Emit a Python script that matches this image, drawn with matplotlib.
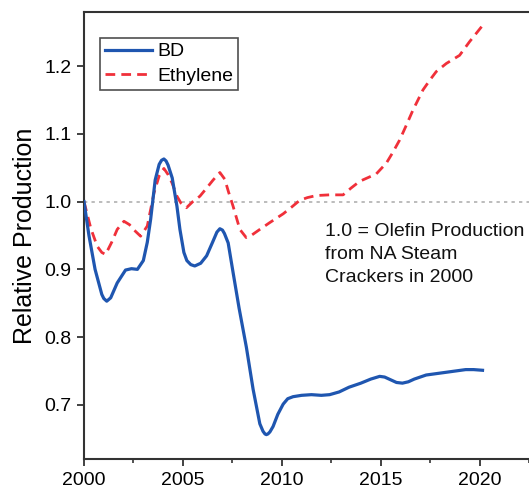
import matplotlib
matplotlib.use("Agg")
from matplotlib import pyplot as plt
from matplotlib.ticker import MultipleLocator, FormatStrFormatter

plt.rcParams["font.family"] = ["Liberation Sans", "DejaVu Sans"]

# values
bd_years = [2000.0, 2000.25, 2000.56, 2000.9, 2001.0, 2001.15, 2001.35, 2001.68,
            2002.1, 2002.4, 2002.7, 2003.0, 2003.2, 2003.37, 2003.6, 2003.8,
            2003.92, 2004.04, 2004.15, 2004.25, 2004.46, 2004.7, 2004.85, 2005.05,
            2005.2, 2005.4, 2005.6, 2005.9, 2006.2, 2006.5, 2006.72, 2006.87,
            2007.0, 2007.1, 2007.29, 2007.54, 2007.84, 2008.21, 2008.55, 2008.89,
            2009.05, 2009.15, 2009.22, 2009.3, 2009.4, 2009.56, 2009.8, 2010.07,
            2010.3, 2010.57, 2011.0, 2011.5, 2012.0, 2012.42, 2012.9, 2013.4,
            2014.0, 2014.5, 2014.95, 2015.2, 2015.5, 2015.8, 2016.1, 2016.4,
            2016.7, 2017.3, 2018.3, 2019.3, 2019.7, 2020.15]
bd_values = [1.000, 0.950, 0.900, 0.863, 0.857, 0.853, 0.858, 0.880,
             0.899, 0.901, 0.900, 0.913, 0.940, 0.974, 1.032, 1.055,
             1.061, 1.063, 1.060, 1.054, 1.035, 0.993, 0.959, 0.925,
             0.913, 0.907, 0.905, 0.909, 0.920, 0.940, 0.955, 0.960,
             0.958, 0.953, 0.939, 0.895, 0.843, 0.785, 0.723, 0.672,
             0.661, 0.657, 0.656, 0.657, 0.660, 0.668, 0.686, 0.701,
             0.709, 0.712, 0.714, 0.715, 0.714, 0.715, 0.719, 0.726,
             0.732, 0.738, 0.742, 0.741, 0.737, 0.733, 0.732, 0.734,
             0.738, 0.744, 0.748, 0.752, 0.752, 0.751]

eth_years = [2000.0, 2000.35, 2000.67, 2000.9, 2001.09, 2001.4, 2001.68, 2002.02,
             2002.3, 2002.5, 2002.86, 2003.2, 2003.54, 2003.8, 2004.04, 2004.25,
             2004.46, 2004.7, 2004.9, 2005.18, 2005.5, 2005.86, 2006.2, 2006.53,
             2006.87, 2007.12, 2007.3, 2007.54, 2007.88, 2008.2, 2008.5, 2008.89,
             2009.39, 2010.07, 2010.5, 2010.91, 2011.3, 2011.75, 2012.4, 2013.1,
             2013.5, 2013.94, 2014.4, 2014.78, 2015.29, 2015.6, 2015.96, 2016.3,
             2016.63, 2017.14, 2017.5, 2017.81, 2018.32, 2018.99, 2019.49, 2020.15]
eth_values = [1.000, 0.960, 0.934, 0.925, 0.922, 0.940, 0.959, 0.971,
              0.966, 0.959, 0.949, 0.964, 1.013, 1.038, 1.049, 1.040,
              1.027, 1.008, 0.998, 0.991, 1.000, 1.008, 1.020, 1.032,
              1.043, 1.033, 1.015, 0.993, 0.959, 0.947, 0.951, 0.959,
              0.969, 0.982, 0.992, 1.002, 1.006, 1.009, 1.010, 1.010,
              1.020, 1.030, 1.036, 1.041, 1.057, 1.072, 1.091, 1.113,
              1.135, 1.165, 1.180, 1.192, 1.204, 1.216, 1.236, 1.260]

note = "1.0 = Olefin Production\nfrom NA Steam\nCrackers in 2000"

fig = plt.figure(figsize=(5.29, 4.90), dpi=100)
ax = fig.add_axes([84 / 529, 31 / 490, 445 / 529, 447 / 490])

ax.axhline(1.0, color="#b0b0b0", linestyle=(0, (2, 2.5)), linewidth=1.2, zorder=1)
ax.plot(bd_years, bd_values, color="#1f56b0", linewidth=2.3, label="BD",
        solid_joinstyle="round", zorder=3)
ax.plot(eth_years, eth_values, color="#f0303a", linewidth=2.0,
        linestyle=(0, (3.5, 2.2)), label="Ethylene", zorder=2)

ax.set_xlim(2000, 2022.5)
ax.set_ylim(0.62, 1.28)
ax.xaxis.set_major_locator(MultipleLocator(5))
ax.xaxis.set_minor_locator(MultipleLocator(2.5))
ax.yaxis.set_major_locator(MultipleLocator(0.1))
ax.yaxis.set_major_formatter(FormatStrFormatter("%.1f"))

for side in ("left", "bottom", "top"):
    ax.spines[side].set_color("#333333")
    ax.spines[side].set_linewidth(1.5)
ax.spines["right"].set_visible(False)

ax.tick_params(axis="both", which="major", direction="out", length=5,
               width=1.3, color="#333333", labelsize=14, pad=4)
ax.tick_params(axis="x", which="minor", direction="out", length=3,
               width=1.2, color="#333333")

ax.set_ylabel("Relative Production", fontsize=18, labelpad=5)

ax.text(2012.18, 0.968, note, fontsize=14, va="top", ha="left",
        linespacing=1.45, color="#111111")

leg = ax.legend(loc="upper left", bbox_to_anchor=(0.036, 0.942), fontsize=14,
                frameon=True, fancybox=False, handlelength=2.4,
                handletextpad=0.3, labelspacing=0.35, borderpad=0.25,
                borderaxespad=0)
leg.get_frame().set_edgecolor("#222222")
leg.get_frame().set_linewidth(1.2)

fig.savefig("out.png", dpi=100)
